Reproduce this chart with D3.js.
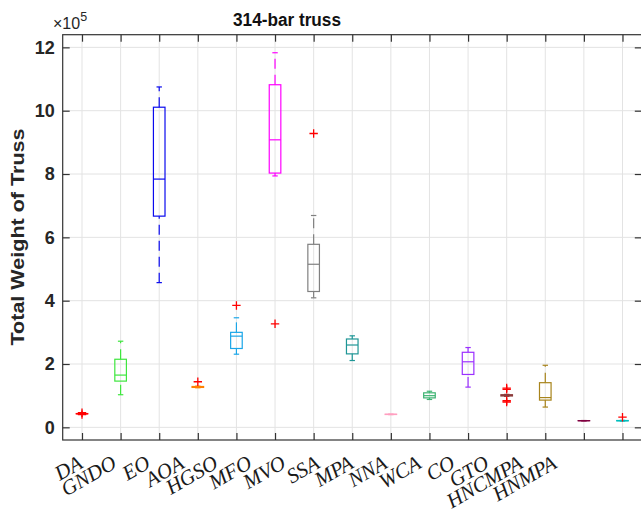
<!DOCTYPE html>
<html>
<head>
<meta charset="utf-8">
<script src="https://cdn.jsdelivr.net/npm/d3@7"></script>
<style>
  body { margin: 0; background: #fff; }
  svg { display: block; }
</style>
</head>
<body>
<svg id="chart" width="641" height="521"></svg>
<script>
// Algorithms compared on the 314-bar truss (total weight of truss)
const categories = ["DA", "GNDO", "EO", "AOA", "HGSO", "MFO", "MVO", "SSA", "MPA", "NNA", "WCA", "CO", "GTO", "HNCMPA", "HNMPA"];
const boxColors = ["#ff0000", "#3ee63e", "#0a0aee", "#ff8000", "#1aa6e8", "#ff00ff", "#808080", "#1f9696", "#ffa0c0", "#3cb371", "#9b30ff", "#8c3c3c", "#a8841c", "#800040", "#00bebe"];

// Box statistics per algorithm
const whiskerLow  = [42000, 103000, 457000, 125000, 231000, 794000, 409000, 211000, 40000, 88000, 127000, 98000, 64000, 20500, 20000];
const quartile1   = [42500, 146000, 667000, 126000, 249000, 803000, 429000, 232000, 40500, 93000, 167000, 99000, 86000, 20800, 20500];
const medians     = [43000, 165000, 784000, 127000, 288000, 908000, 515000, 260000, 41000, 100000, 207000, 101000, 94000, 21000, 21000];
const quartile3   = [43500, 215000, 1011000, 129000, 300000, 1082000, 578000, 279000, 41500, 109000, 237000, 103000, 141000, 21200, 21500];
const whiskerHigh = [44000, 272000, 1075000, 130000, 346000, 1183000, 669000, 289000, 42000, 114000, 252000, 104000, 196000, 21500, 22000];
const outliers    = [[46000, 40000], [], [], [144000], [385000], [327000], [928000], [], [], [], [], [124000, 120000, 84000, 80000], [], [], [32000]];

const yTicks = [0, 200000, 400000, 600000, 800000, 1000000, 1200000];
const yExponent = 5;

const svg = d3.select("#chart");
const plotLeft = 62.7, plotRight = 641.8, plotTop = 34.7, plotBottom = 440;

const x = d3.scaleBand().domain(categories).range([plotLeft, plotRight]);
const step = x.step();
const cx = c => x(c) + x.bandwidth() / 2;
const y = d3.scaleLinear().domain([-40000, 1240000]).range([plotBottom, plotTop]);

// Positions of the slanted category labels
const labelX = d3.scalePoint().domain(categories).range([84, 558]);

const axisColor = "#333333";
const textColor = "#262626";

// Grid
const grid = svg.append("g");
grid.selectAll("line.gx").data(categories).join("line")
  .attr("x1", d => cx(d)).attr("x2", d => cx(d))
  .attr("y1", plotTop).attr("y2", plotBottom)
  .attr("stroke", "#e3e3e3").attr("stroke-width", 1);
grid.selectAll("line.gy").data(yTicks).join("line")
  .attr("x1", plotLeft).attr("x2", plotRight)
  .attr("y1", d => y(d)).attr("y2", d => y(d))
  .attr("stroke", "#e3e3e3").attr("stroke-width", 1);

// Boxes
const boxHalf = step * 0.15;
const capHalf = step * 0.07;
const boxes = svg.append("g").attr("fill", "none").attr("stroke-width", 1.2);
categories.forEach((c, i) => {
  const g = boxes.append("g").attr("stroke", boxColors[i]);
  const xc = cx(c);
  // whiskers, drawn from the lower value towards the higher one
  g.append("line").attr("x1", xc).attr("x2", xc)
    .attr("y1", y(whiskerLow[i])).attr("y2", y(quartile1[i]))
    .attr("stroke-dasharray", "10,6");
  g.append("line").attr("x1", xc).attr("x2", xc)
    .attr("y1", y(quartile3[i])).attr("y2", y(whiskerHigh[i]))
    .attr("stroke-dasharray", "10,6");
  // caps
  [whiskerLow[i], whiskerHigh[i]].forEach(v => {
    g.append("line").attr("x1", xc - capHalf).attr("x2", xc + capHalf)
      .attr("y1", y(v)).attr("y2", y(v));
  });
  // box
  g.append("rect").attr("x", xc - boxHalf).attr("width", boxHalf * 2)
    .attr("y", y(quartile3[i])).attr("height", Math.max(0.01, y(quartile1[i]) - y(quartile3[i])));
  // median
  g.append("line").attr("x1", xc - boxHalf).attr("x2", xc + boxHalf)
    .attr("y1", y(medians[i])).attr("y2", y(medians[i]));
});

// Outliers
const plus = svg.append("g").attr("stroke", "#ff0000").attr("stroke-width", 1.3).attr("fill", "none");
categories.forEach((c, i) => {
  outliers[i].forEach(v => {
    const px = cx(c), py = y(v), s = 4.2;
    plus.append("path").attr("d", `M${px - s},${py}H${px + s}M${px},${py - s}V${py + s}`);
  });
});

// Axes frame
svg.append("rect").attr("x", plotLeft).attr("y", plotTop)
  .attr("width", plotRight - plotLeft).attr("height", plotBottom - plotTop)
  .attr("fill", "none").attr("stroke", axisColor).attr("stroke-width", 1.2);

const fmt = d => d3.format("d")(d / Math.pow(10, yExponent));

const yAxis = svg.append("g").attr("transform", `translate(${plotLeft},0)`)
  .call(d3.axisLeft(y).tickValues(yTicks).tickFormat(fmt).tickSize(-7).tickPadding(8));
const yAxisR = svg.append("g").attr("transform", `translate(${plotRight},0)`)
  .call(d3.axisRight(y).tickValues(yTicks).tickFormat("").tickSize(-7));

const xPoint = d3.scalePoint().domain(categories).range([cx(categories[0]), cx(categories[categories.length - 1])]);
const xAxis = svg.append("g").attr("transform", `translate(0,${plotBottom})`)
  .call(d3.axisBottom(xPoint).tickFormat("").tickSize(-7));
const xAxisT = svg.append("g").attr("transform", `translate(0,${plotTop})`)
  .call(d3.axisTop(xPoint).tickFormat("").tickSize(-7));

[yAxis, yAxisR, xAxis, xAxisT].forEach(a => {
  a.select(".domain").remove();
  a.selectAll(".tick line").attr("stroke", axisColor).attr("stroke-width", 1.2);
});
yAxis.selectAll(".tick text")
  .attr("font-family", "'Liberation Sans', Arial, sans-serif")
  .attr("font-weight", "bold").attr("font-size", 18).attr("fill", textColor);

// Category labels
svg.append("g").selectAll("text").data(categories).join("text")
  .attr("transform", d => `translate(${labelX(d)},467) rotate(-30)`)
  .attr("text-anchor", "end")
  .attr("font-family", "'Liberation Serif', 'Times New Roman', serif")
  .attr("font-style", "italic").attr("font-size", 21).attr("fill", "#1a1a1a")
  .text(d => d);

// Exponent marker
const ex = svg.append("text").attr("x", 53).attr("y", 29)
  .attr("font-family", "'Liberation Sans', Arial, sans-serif")
  .attr("font-size", 16).attr("fill", textColor);
ex.append("tspan").text("\u00d710");
ex.append("tspan").attr("dy", -8).attr("font-size", 12.5).text(yExponent);

// Title
svg.append("text").attr("x", 287).attr("y", 26).attr("text-anchor", "middle")
  .attr("font-family", "'Liberation Sans', Arial, sans-serif")
  .attr("font-weight", "bold").attr("font-size", 18)
  .attr("textLength", 108).attr("lengthAdjust", "spacingAndGlyphs")
  .attr("fill", "#111").text("314-bar truss");

// Y label
svg.append("text").attr("transform", `translate(24,237) rotate(-90)`)
  .attr("text-anchor", "middle")
  .attr("font-family", "'Liberation Sans', Arial, sans-serif")
  .attr("font-weight", "bold").attr("font-size", 18.5)
  .attr("textLength", 217).attr("lengthAdjust", "spacingAndGlyphs")
  .attr("fill", textColor).text("Total Weight of Truss");
</script>
</body>
</html>
